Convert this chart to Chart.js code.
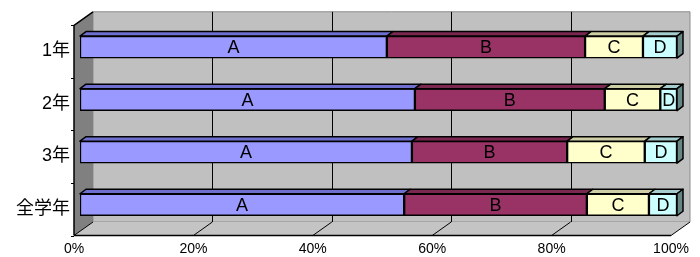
<!DOCTYPE html>
<html>
<head>
<meta charset="utf-8">
<script src="https://cdn.jsdelivr.net/npm/chart.js@4.4.0/dist/chart.umd.min.js"></script>
<style>
  html, body { margin: 0; padding: 0; background: #fff; }
  #wrap { width: 700px; height: 257px; }
</style>
</head>
<body>
<div id="wrap"><canvas id="myChart" width="700" height="257"></canvas></div>
<script>
const categories = ["1年", "2年", "3年", "全学年"]
const seriesNames = ["A", "B", "C", "D"]
const seriesA = [51.4, 56.1, 55.6, 54.3]
const seriesB = [33.2, 31.8, 26.0, 30.6]
const seriesC = [9.7, 9.3, 13.0, 10.4]
const seriesD = [5.7, 2.8, 5.4, 4.7]
const xTicks = [0, 20, 40, 60, 80, 100]

const frontColors = ["#9999FF", "#993366", "#FFFFCC", "#CCFFFF"]
const topColors = ["#6F6FD0", "#7A2850", "#CDCDA6", "#A6CDCD"]
const sideColors = ["#5555AA", "#5C1E3D", "#9A9A7C", "#668585"]

const FONT = "'Liberation Sans', 'Noto Sans CJK JP', sans-serif"

// depth steps: wall front -> bar front -> bar back -> back wall
const toBar = { x: -6, y: 4.5 }
const barDepth = { x: 6, y: -4.5 }
const wallDepth = { x: 19, y: -13.5 }

function quad(ctx, pts, fill, stroke, lw) {
  ctx.beginPath()
  ctx.moveTo(pts[0][0], pts[0][1])
  for (let i = 1; i < pts.length; i++) ctx.lineTo(pts[i][0], pts[i][1])
  ctx.closePath()
  if (fill) { ctx.fillStyle = fill; ctx.fill() }
  if (stroke) { ctx.strokeStyle = stroke; ctx.lineWidth = lw || 1; ctx.stroke() }
}

const walls3d = {
  id: "walls3d",
  beforeDatasetsDraw(chart) {
    const ctx = chart.ctx
    const a = chart.chartArea
    const xs = chart.scales.x
    // front plane
    const fl = a.left + toBar.x, fr = a.right + toBar.x
    const ft = a.top + toBar.y, fb = a.bottom + toBar.y
    const dx = wallDepth.x, dy = wallDepth.y
    ctx.save()
    // back wall
    quad(ctx, [[fl + dx, ft + dy], [fr + dx, ft + dy], [fr + dx, fb + dy], [fl + dx, fb + dy]], "#C0C0C0", "#8C8C8C", 1)
    // floor
    quad(ctx, [[fl, fb], [fr, fb], [fr + dx, fb + dy], [fl + dx, fb + dy]], "#C4C4C4", null)
    ctx.strokeStyle = "#E6E6E6"
    ctx.lineWidth = 1
    ctx.beginPath()
    ctx.moveTo(fr, fb); ctx.lineTo(fr + dx, fb + dy)
    ctx.stroke()
    // left wall
    quad(ctx, [[fl, ft], [fl + dx, ft + dy], [fl + dx, fb + dy], [fl, fb]], "#808080", null)
    // gridlines on back wall and floor
    ctx.strokeStyle = "#000"
    ctx.lineWidth = 1
    xTicks.forEach((t) => {
      const x = xs.getPixelForValue(t) + toBar.x
      const px = Math.round(x + dx) + 0.5
      if (t > 0 && t < 100) {
        ctx.beginPath()
        ctx.moveTo(px, ft + dy)
        ctx.lineTo(px, fb + dy)
        ctx.stroke()
      }
      ctx.beginPath()
      ctx.moveTo(x + dx, fb + dy)
      ctx.lineTo(x, fb)
      ctx.stroke()
    })
    // category ticks on left wall
    for (let i = 0; i <= categories.length; i++) {
      const y = a.top + (a.bottom - a.top) * i / categories.length + toBar.y
      ctx.beginPath()
      ctx.moveTo(fl - 3, Math.round(y) + 0.5)
      ctx.lineTo(fl, Math.round(y) + 0.5)
      ctx.stroke()
    }
    // front axis lines
    ctx.lineWidth = 1.5
    ctx.beginPath()
    ctx.moveTo(fl, fb); ctx.lineTo(fr, fb)
    ctx.moveTo(fl, fb); ctx.lineTo(fl, ft); ctx.lineTo(fl + dx, ft + dy)
    ctx.stroke()
    ctx.restore()
  },
  afterDatasetsDraw(chart) {
    const ctx = chart.ctx
    ctx.save()
    ctx.lineJoin = "round"
    const n = chart.data.datasets.length
    categories.forEach((c, i) => {
      for (let d = 0; d < n; d++) {
        const bar = chart.getDatasetMeta(d).data[i]
        const p = bar.getProps(["x", "y", "base", "height"], true)
        const x0 = p.base, x1 = p.x
        const top = p.y - p.height / 2, bot = p.y + p.height / 2
        const bx = barDepth.x, by = barDepth.y
        quad(ctx, [[x0, top], [x1, top], [x1 + bx, top + by], [x0 + bx, top + by]], topColors[d], "#000", 1.5)
        if (d === n - 1) {
          quad(ctx, [[x1, top], [x1 + bx, top + by], [x1 + bx, bot + by], [x1, bot]], sideColors[d], "#000", 1.5)
        }
        ctx.fillStyle = "#000"
        ctx.font = "18px " + FONT
        ctx.textAlign = "center"
        ctx.textBaseline = "middle"
        ctx.fillText(seriesNames[d], (x0 + x1) / 2, p.y + 1)
      }
    })
    ctx.restore()
  },
}

const seriesValues = [seriesA, seriesB, seriesC, seriesD]

new Chart(document.getElementById("myChart"), {
  type: "bar",
  data: {
    labels: categories,
    datasets: seriesValues.map((vals, d) => ({
      label: seriesNames[d],
      data: vals,
      backgroundColor: frontColors[d],
      borderColor: "#000",
      borderWidth: 1.5,
      borderSkipped: false,
      barThickness: 22,
    })),
  },
  options: {
    indexAxis: "y",
    responsive: false,
    animation: false,
    devicePixelRatio: 1,
    layout: { autoPadding: false, padding: { top: 18, right: 23, left: 0, bottom: 0 } },
    plugins: {
      legend: { display: false },
      tooltip: { enabled: false },
    },
    scales: {
      x: {
        stacked: true,
        min: 0,
        max: 100,
        afterBuildTicks(scale) {
          scale.ticks = xTicks.map((v) => ({ value: v }))
        },
        afterFit(scale) {
          scale.height = 26
          scale.paddingLeft = 0
          scale.paddingRight = 0
        },
        grid: { display: false, drawTicks: false },
        border: { display: false },
        ticks: {
          padding: 10,
          labelOffset: -6,
          maxRotation: 0,
          autoSkip: false,
          color: "#000",
          font: { size: 14, family: FONT },
          callback: (v) => v + "%",
        },
      },
      y: {
        stacked: true,
        afterFit(scale) { scale.width = 80 },
        grid: { display: false, drawTicks: false },
        border: { display: false },
        ticks: {
          padding: 10,
          labelOffset: 4,
          color: "#000",
          font: { size: 18, family: FONT },
        },
      },
    },
  },
  plugins: [walls3d],
})
</script>
</body>
</html>
